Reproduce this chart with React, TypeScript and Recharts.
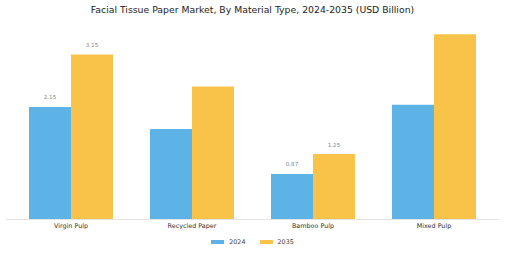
import { BarChart, Bar, XAxis, YAxis, Legend, LabelList } from 'recharts';

const categories = ['Virgin Pulp', 'Recycled Paper', 'Bamboo Pulp', 'Mixed Pulp'];
const values2024 = [2.15, 1.73, 0.87, 2.19];
const values2035 = [3.15, 2.54, 1.25, 3.54];
const showLabel = [true, false, true, false];

const BLUE = '#5DB3E6';
const YELLOW = '#F9C34A';
const FONT = '"DejaVu Sans", sans-serif';

const data = categories.map((name, i) => ({
    name,
    v2024: values2024[i],
    v2035: values2035[i],
    l2024: showLabel[i] ? values2024[i] : null,
    l2035: showLabel[i] ? values2035[i] : null,
}));

const seriesInfo = [
    { name: '2024', color: BLUE },
    { name: '2035', color: YELLOW },
];

function LegendBox() {
    return (
        <div style={{ display: 'flex', justifyContent: 'center', alignItems: 'center', height: 18, fontFamily: FONT, fontSize: 6.4, color: '#444' }}>
            {seriesInfo.map((s, i) => (
                <div key={s.name} style={{ display: 'flex', alignItems: 'center', marginLeft: i ? 14 : 0 }}>
                    <div style={{ width: 13, height: 4.5, background: s.color, marginRight: 5 }} />
                    <span>{s.name}</span>
                </div>
            ))}
        </div>
    );
}

export default function App() {
    return (
        <div style={{ position: 'absolute', left: 0, top: 0, width: 505, height: 253, background: '#fff' }}>
            <div style={{ position: 'absolute', left: 0, top: 4, width: 505, textAlign: 'center', fontFamily: FONT, fontSize: 9.3, color: '#222', lineHeight: '12px' }}>
                Facial Tissue Paper Market, By Material Type, 2024-2035 (USD Billion)
            </div>
            <BarChart
                width={505}
                height={253}
                data={data}
                margin={{ top: 31, right: 6, left: 6, bottom: 0 }}
                barCategoryGap="15.3%"
                barGap={0}
            >
                <XAxis
                    dataKey="name"
                    tickLine={false}
                    tickSize={0}
                    tickMargin={4}
                    height={13.5}
                    axisLine={{ stroke: '#e4e4e4' }}
                    padding={{ left: 4.5, right: 4.5 }}
                    tick={{ fontSize: 6.4, fill: '#333', fontFamily: FONT }}
                    interval={0}
                />
                <YAxis hide domain={[0, 3.6]} />
                <Legend verticalAlign="bottom" height={20} content={() => <LegendBox />} />
                <Bar dataKey="v2024" name="2024" fill={BLUE} isAnimationActive={false}>
                    <LabelList dataKey="l2024" position="top" offset={7.5} style={{ fontSize: 5.6, fill: '#888', fontFamily: FONT }} />
                </Bar>
                <Bar dataKey="v2035" name="2035" fill={YELLOW} isAnimationActive={false}>
                    <LabelList dataKey="l2035" position="top" offset={7.5} style={{ fontSize: 5.6, fill: '#888', fontFamily: FONT }} />
                </Bar>
            </BarChart>
        </div>
    );
}
